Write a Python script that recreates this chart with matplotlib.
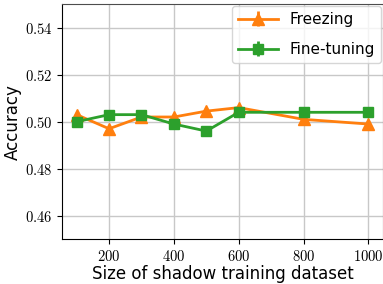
import matplotlib
matplotlib.use("Agg")
import matplotlib.pyplot as plt
from matplotlib.ticker import FuncFormatter

plt.rcParams['mathtext.fontset'] = 'cm'

# Dimensione del dataset shadow
sizes = [100, 200, 300, 400, 500, 600, 800, 1000]
freezing = [0.503, 0.497, 0.502, 0.502, 0.5045, 0.506, 0.501, 0.499]
fine_tuning = [0.500, 0.503, 0.503, 0.499, 0.496, 0.504, 0.504, 0.504]
errs = [0.0] * len(sizes)

fig, ax = plt.subplots(figsize=(3.83, 2.84), dpi=100)
fig.subplots_adjust(left=0.162, right=1.0, bottom=0.158, top=0.985)

ax.errorbar(sizes, freezing, yerr=errs, marker='^', markersize=8, color='#ff7f0e',
            linewidth=2, label='Freezing')
ax.errorbar(sizes, fine_tuning, yerr=errs, marker='s', markersize=7, color='#2ca02c',
            linewidth=2, label='Fine-tuning')

ax.set_ylim(0.45, 0.55)
ax.set_xticks([200, 400, 600, 800, 1000])
ax.set_yticks([0.46, 0.48, 0.50, 0.52, 0.54])
ax.xaxis.set_major_formatter(FuncFormatter(lambda v, p: r'$%d$' % v))
ax.yaxis.set_major_formatter(FuncFormatter(lambda v, p: r'$%.2f$' % v))
ax.tick_params(labelsize=10.5)
ax.grid(True, color='#c8c8c8', linewidth=1)
ax.set_axisbelow(True)

ax.spines['top'].set_color('0.3')
ax.spines['right'].set_color('0.3')

ax.set_xlabel('Size of shadow training dataset', fontsize=12, labelpad=1)
ax.set_ylabel('Accuracy', fontsize=12)
ax.yaxis.set_label_coords(-0.125, 0.5)
ax.legend(loc='upper right', fontsize=11, borderaxespad=0.1, handlelength=2.6,
          labelspacing=1.0, handletextpad=0.8)

fig.savefig('out.png', dpi=100)
